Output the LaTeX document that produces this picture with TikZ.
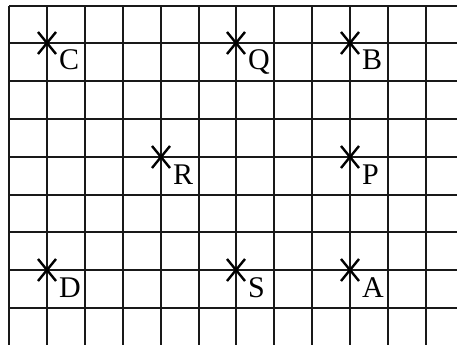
\documentclass[tikz,border=0pt]{standalone}
\usepackage{fontspec}
\setmainfont{Liberation Serif}
\begin{document}
\begin{tikzpicture}[x=1pt,y=-1pt,
  gridline/.style={line width=2.6pt,draw=black!90},
  xmark/.style={line width=2.4pt,draw=black},
  ptlabel/.style={anchor=base west,inner sep=0pt,font=\fontsize{30}{31}\selectfont}]
\useasboundingbox (0,0) rectangle (457,345);
% vertical grid lines
\foreach \xx in {9,47,85,123,161,199,236,274,312,350,388,426}{
  \draw[gridline] (\xx,6) -- (\xx,345);
}
% horizontal grid lines
\foreach \yy in {6,43,81,119,157,195,232,270,308}{
  \draw[gridline] (9,\yy) -- (457,\yy);
}
% points
\foreach \nm/\xx/\yy in {C/47/43, Q/236/43, B/350/43, R/161/157, P/350/157, D/47/270, S/236/270, A/350/270}{
  \coordinate (\nm) at (\xx,\yy);
  \draw[xmark] ([shift={(-9,-11)}]\nm) -- ([shift={(9,11)}]\nm);
  \draw[xmark] ([shift={(-9,11)}]\nm) -- ([shift={(9,-11)}]\nm);
  \node[ptlabel] (lbl\nm) at ([shift={(12,27)}]\nm) {\nm};
}
\end{tikzpicture}
\end{document}
